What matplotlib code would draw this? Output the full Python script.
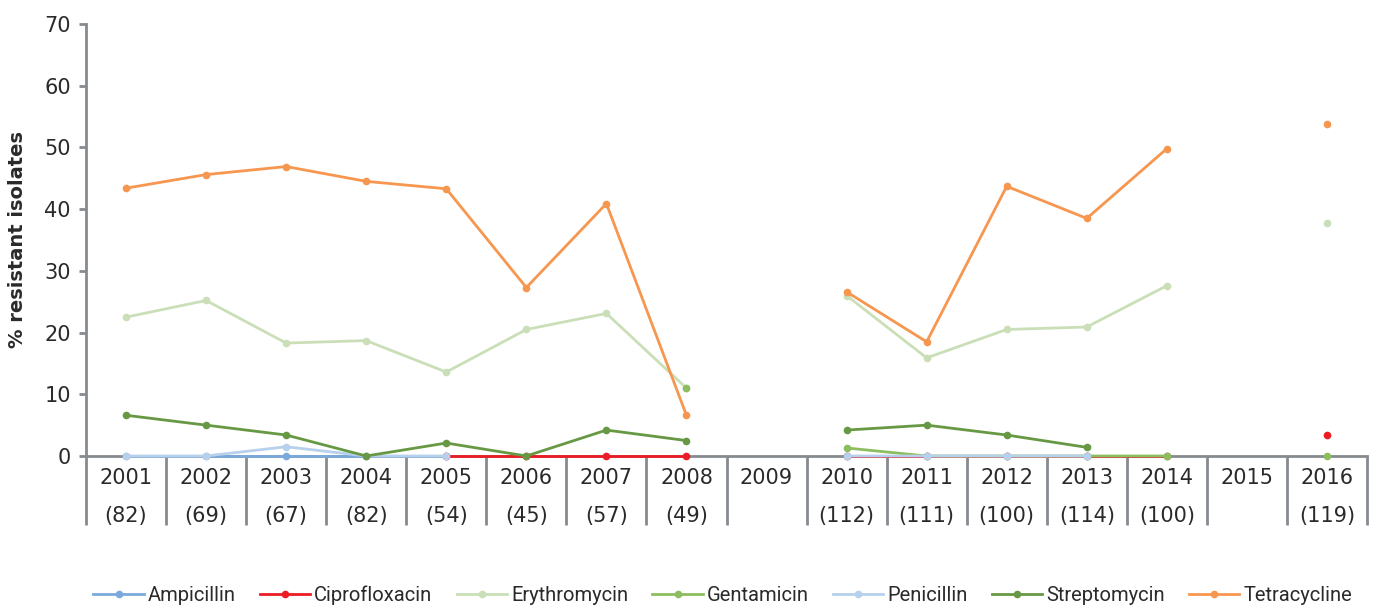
import numpy as np
import matplotlib

matplotlib.use("Agg")
import matplotlib.pyplot as plt
import matplotlib.transforms as mtransforms

nan = np.nan

years = [str(y) for y in range(2001, 2017)]
isolates = ["(82)", "(69)", "(67)", "(82)", "(54)", "(45)", "(57)", "(49)", "",
            "(112)", "(111)", "(100)", "(114)", "(100)", "", "(119)"]

ampicillin = [0, 0, 0, 0, 0, nan, nan, nan, nan, 0, 0, 0, 0, nan, nan, nan]
ciprofloxacin = [nan, nan, nan, nan, 0, 0, 0, 0, nan, 0, 0, 0, 0, 0, nan, 3.4]
erythromycin = [22.5, 25.2, 18.3, 18.7, 13.6, 20.5, 23.1, 11.0, nan,
                26.0, 15.9, 20.5, 20.9, 27.6, nan, 37.8]
gentamicin = [nan, nan, nan, nan, nan, nan, nan, 11.0, nan,
              1.3, 0, 0, 0, 0, nan, 0]
penicillin = [0, 0, 1.5, 0, 0, nan, nan, nan, nan, 0, 0, 0, 0, nan, nan, nan]
streptomycin = [6.6, 5.0, 3.4, 0, 2.1, 0, 4.2, 2.5, nan,
                4.2, 5.0, 3.4, 1.4, nan, nan, nan]
tetracycline = [43.4, 45.6, 46.9, 44.5, 43.3, 27.3, 40.9, 6.6, nan,
                26.6, 18.5, 43.7, 38.5, 49.8, nan, 53.8]

series = [
    ("Ampicillin", ampicillin, "#7aaadc"),
    ("Ciprofloxacin", ciprofloxacin, "#ed1c24"),
    ("Erythromycin", erythromycin, "#cadfb8"),
    ("Gentamicin", gentamicin, "#8cbd5f"),
    ("Penicillin", penicillin, "#b7d0ec"),
    ("Streptomycin", streptomycin, "#679944"),
    ("Tetracycline", tetracycline, "#f7964f"),
]

axis_grey = "#868b8f"
text_col = "#2a2a2a"

fig = plt.figure(figsize=(13.74, 6.12), dpi=100)
ax = fig.add_axes([86 / 1374, 1 - 456 / 612, (1367 - 86) / 1374, 432 / 612])

x = np.arange(len(years))
for name, vals, col in series:
    ax.plot(x, vals, color=col, lw=2.0, marker="o", ms=5.5,
            markeredgewidth=0, label=name, clip_on=False, zorder=3)

ax.set_xlim(-0.5, len(years) - 0.5)
ax.set_ylim(0, 70)
ax.set_yticks(range(0, 71, 10))
ax.tick_params(axis="y", length=5, width=2, color=axis_grey, pad=6,
               labelsize=15, labelcolor=text_col)
ax.set_xticks([])

for side in ("top", "right"):
    ax.spines[side].set_visible(False)
for side in ("left", "bottom"):
    ax.spines[side].set_color(axis_grey)
    ax.spines[side].set_linewidth(2)

# category separators running down through the two label rows
trans = mtransforms.blended_transform_factory(ax.transData, ax.transAxes)
drop = -(525 - 456) / 432
for b in np.arange(len(years) + 1) - 0.5:
    ax.plot([b, b], [0, drop], transform=trans, color=axis_grey, lw=2,
            clip_on=False, solid_capstyle="butt")

for i, (yr, n) in enumerate(zip(years, isolates)):
    ax.text(i, -(478 - 456) / 432, yr, transform=trans, ha="center",
            va="center", fontsize=15, color=text_col)
    if n:
        ax.text(i, -(516 - 456) / 432, n, transform=trans, ha="center",
                va="center", fontsize=15, color=text_col)

ax.set_ylabel("% resistant isolates", fontsize=14, fontweight="bold",
              color=text_col, labelpad=12)

fig.legend(loc="center", bbox_to_anchor=(0.526, 0.028), ncol=7,
           frameon=False, handlelength=2.5, handletextpad=0.2,
           columnspacing=1.2, prop={"family": "Roboto", "size": 14.5},
           labelcolor=text_col)

fig.savefig("out.png", dpi=100)
